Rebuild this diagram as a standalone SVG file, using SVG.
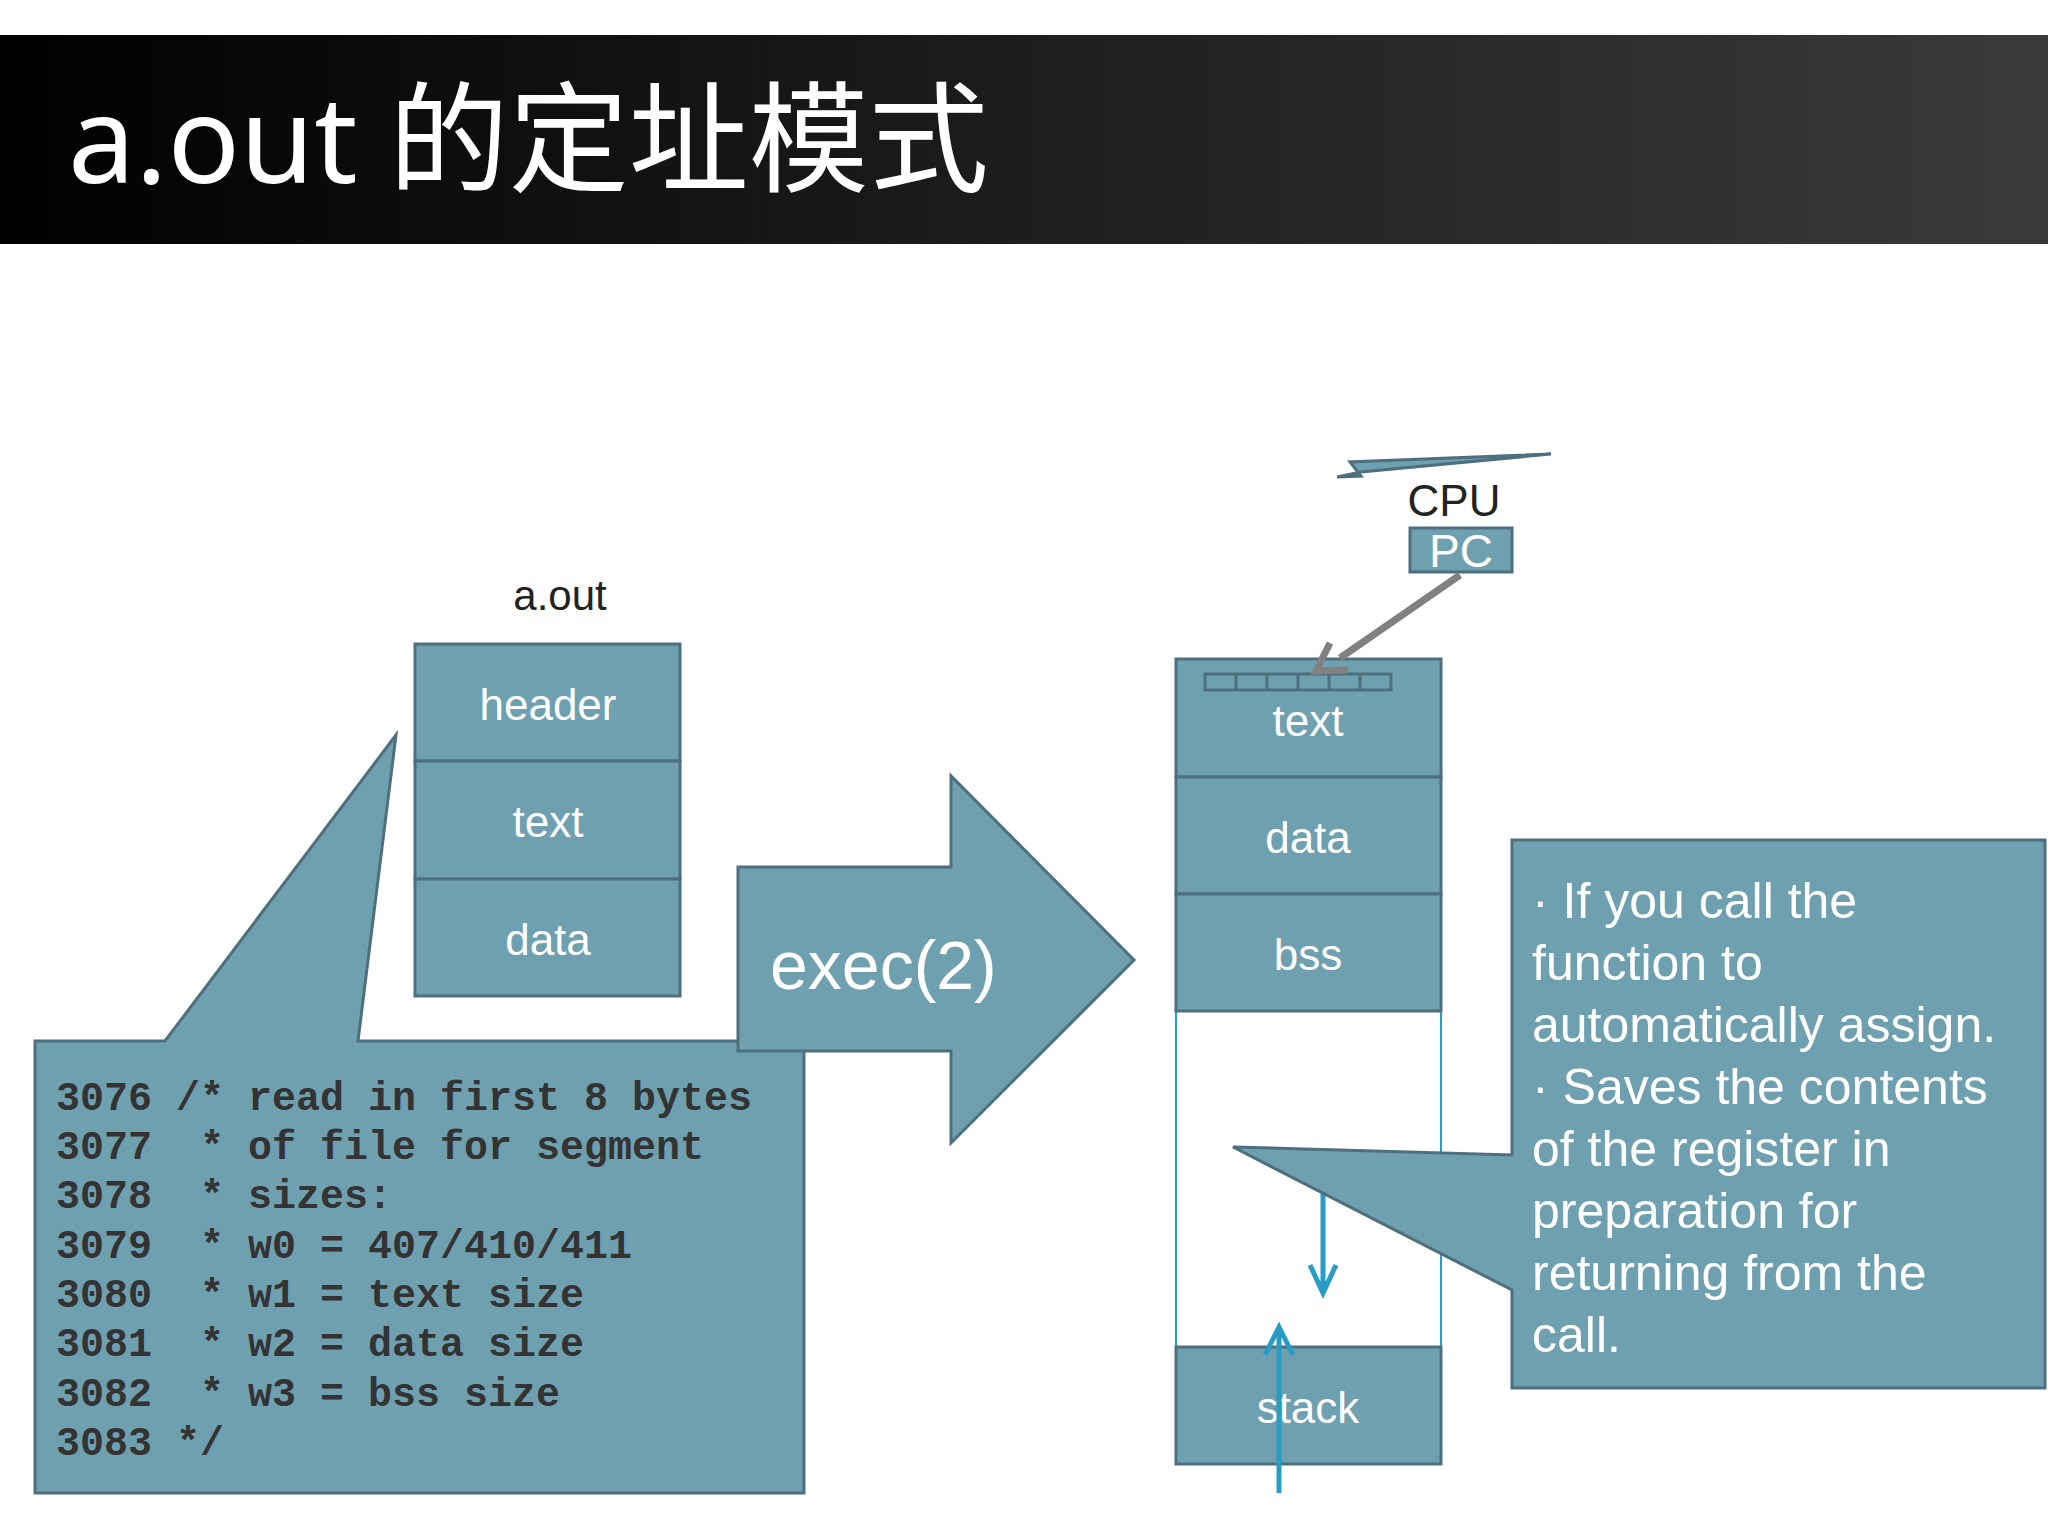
<svg xmlns="http://www.w3.org/2000/svg" width="2048" height="1535" viewBox="0 0 2048 1535">
<style>
.b{fill:#6fa0b0;stroke:#4e6f7e;stroke-width:3}
.w{fill:#fff;font-family:"Liberation Sans",Arial,sans-serif}
.c{fill:#333;font-family:"Liberation Mono","Courier New",monospace;font-weight:bold;font-size:40px}
.r{fill:#fff;font-family:"Liberation Sans",Arial,sans-serif;font-size:50px}
</style>
<defs><linearGradient id="g" x1="0" x2="1"><stop offset="0" stop-color="#000"/><stop offset="1" stop-color="#3a3a3a"/></linearGradient></defs>
<rect width="2048" height="1535" fill="#fff"/>
<g id="title"><rect x="0" y="35" width="2048" height="209" fill="url(#g)"/>
<text x="68" y="183" font-size="120" fill="#fff" font-family="'Noto Sans','Noto Sans CJK SC',sans-serif">a.out 的定址模式</text></g>
<g id="aout">
<text x="560" y="610" text-anchor="middle" font-size="42" fill="#222" font-family="Liberation Sans,sans-serif">a.out</text>
<rect class="b" x="415" y="644" width="265" height="117"/><text class="w" x="548" y="720" font-size="44" text-anchor="middle">header</text>
<rect class="b" x="415" y="761" width="265" height="118"/><text class="w" x="548" y="837" font-size="44" text-anchor="middle">text</text>
<rect class="b" x="415" y="879" width="265" height="117"/><text class="w" x="548" y="955" font-size="44" text-anchor="middle">data</text>
</g>
<g id="code">
<path class="b" d="M35 1041H165L396 735L358 1041H804V1493H35Z"/>
<text class="c" x="56" xml:space="preserve"><tspan x="56" y="1110">3076 /* read in first 8 bytes</tspan><tspan x="56" y="1159">3077  * of file for segment</tspan><tspan x="56" y="1208">3078  * sizes:</tspan><tspan x="56" y="1258">3079  * w0 = 407/410/411</tspan><tspan x="56" y="1307">3080  * w1 = text size</tspan><tspan x="56" y="1356">3081  * w2 = data size</tspan><tspan x="56" y="1406">3082  * w3 = bss size</tspan><tspan x="56" y="1455">3083 */</tspan></text>
</g>
<g id="exec"><path class="b" d="M738 867H951V776L1134 960L951 1143V1051H738Z"/>
<text class="w" x="770" y="989" font-size="68">exec(2)</text></g>
<g id="memory">
<rect x="1176" y="1011" width="265" height="336" fill="none" stroke="#2a9cc4" stroke-width="2"/>
<rect class="b" x="1176" y="659" width="265" height="118"/>
<g fill="none" stroke="#4e6f7e" stroke-width="3"><rect x="1205" y="674" width="186" height="16"/><path d="M1236 674v16M1267 674v16M1298 674v16M1329 674v16M1360 674v16"/></g>
<text class="w" x="1308" y="736" font-size="44" text-anchor="middle">text</text>
<rect class="b" x="1176" y="777" width="265" height="117"/><text class="w" x="1308" y="853" font-size="44" text-anchor="middle">data</text>
<rect class="b" x="1176" y="894" width="265" height="117"/><text class="w" x="1308" y="970" font-size="44" text-anchor="middle">bss</text>
<rect class="b" x="1176" y="1347" width="265" height="117"/><text class="w" x="1308" y="1423" font-size="44" text-anchor="middle">stack</text>
</g>
<g id="cpu">
<path d="M1337 477L1361 476L1350 462L1551 454L1361 472Z" fill="#6fa0b0" stroke="#4e6f7e" stroke-width="3"/>
<text x="1454" y="516" text-anchor="middle" font-size="44" fill="#222" font-family="Liberation Sans,sans-serif">CPU</text>
<rect class="b" x="1410" y="528" width="102" height="44"/><text class="w" x="1461" y="567" font-size="46" text-anchor="middle">PC</text>
</g>
<g id="connectors">
<path d="M1460 575L1340 658M1330 643L1316 671L1348 670" fill="none" stroke="#808080" stroke-width="7"/>
<path d="M1323 1193V1290M1310 1265L1323 1293L1336 1265" fill="none" stroke="#2a9cc4" stroke-width="5"/>
<path d="M1279 1493V1328M1265 1355L1279 1327L1293 1355" fill="none" stroke="#2a9cc4" stroke-width="5"/>
</g>
<g id="note">
<path class="b" d="M1512 840H2045V1388H1512V1290L1233 1147L1512 1155Z"/>
<text class="r"><tspan x="1532" y="918">· If you call the</tspan><tspan x="1532" y="980">function to</tspan><tspan x="1532" y="1042">automatically assign.</tspan><tspan x="1532" y="1104">· Saves the contents</tspan><tspan x="1532" y="1166">of the register in</tspan><tspan x="1532" y="1228">preparation for</tspan><tspan x="1532" y="1290">returning from the</tspan><tspan x="1532" y="1352">call.</tspan></text>
</g>
</svg>
